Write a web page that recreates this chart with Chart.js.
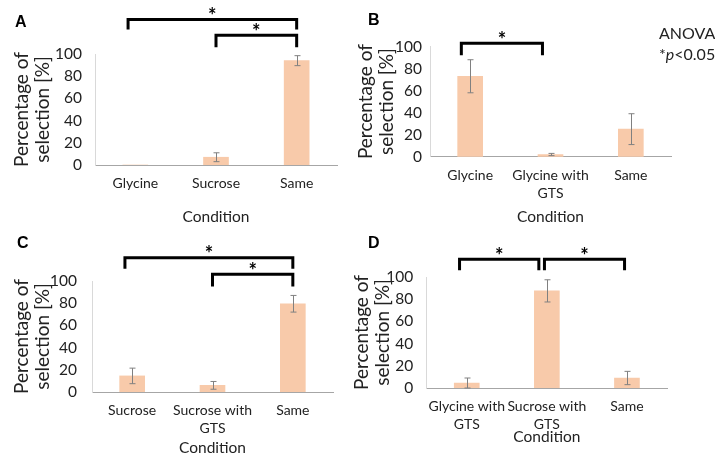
<!DOCTYPE html>
<html>
<head>
<meta charset="utf-8">
<script src="https://cdn.jsdelivr.net/npm/chart.js@4.4.1/dist/chart.umd.min.js"></script>
<style>
  html, body { margin: 0; padding: 0; background: #fff; overflow: hidden; }
  body { position: relative; width: 715px; height: 453px; font-family: Lato, "Open Sans", sans-serif; }
  canvas { position: absolute; }
  .letter { position: absolute; font: bold 16px "Liberation Sans", Arial, sans-serif; color: #000; }
  .note { position: absolute; font: 16px Lato, sans-serif; color: #222; line-height: 21px; }
</style>
</head>
<body>
<canvas id="chartA" width="355" height="226" style="left:0;top:0"></canvas>
<canvas id="chartB" width="365" height="226" style="left:350px;top:0"></canvas>
<canvas id="chartC" width="355" height="231" style="left:0;top:226px"></canvas>
<canvas id="chartD" width="365" height="220" style="left:350px;top:226px"></canvas>

<div class="letter" style="left:15px;top:13px">A</div>
<div class="letter" style="left:368px;top:11px">B</div>
<div class="letter" style="left:17px;top:234px">C</div>
<div class="letter" style="left:368px;top:234px">D</div>
<div class="note" style="left:659px;top:22px">ANOVA<br>*<i>p</i>&lt;0.05</div>

<script>
// values (percent of selection, mean and error)
const yTicks = [0, 20, 40, 60, 80, 100];

const catsA = ['Glycine', 'Sucrose', 'Same'];
const valsA = [0, 7, 94];
const errA = [0, 4, 4.5];

const catsB = ['Glycine', ['Glycine with', 'GTS'], 'Same'];
const valsB = [73, 2, 25];
const errB = [15, 1, 14];

const catsC = ['Sucrose', ['Sucrose with', 'GTS'], 'Same'];
const valsC = [14.5, 6, 79.5];
const errC = [7, 3.5, 7.5];

const catsD = [['Glycine with', 'GTS'], ['Sucrose with', 'GTS'], 'Same'];
const valsD = [4.5, 87.5, 9];
const errD = [4.5, 10, 6];

// significance brackets: category span and height in axis units
const sigA = [{ from: -0.09, to: 2, top: 131, leg: 122 }, { from: 1, to: 2, top: 117, leg: 106 }];
const sigB = [{ from: -0.11, to: 0.9, top: 103, leg: 92 }];
const sigC = [{ from: -0.09, to: 2, top: 121, leg: 111 }, { from: 1, to: 2, top: 106, leg: 95 }];
const sigD = [{ from: -0.09, to: 0.9, top: 116, leg: 106 }, { from: 0.97, to: 1.97, top: 116, leg: 106 }];

const barColor = '#f8caaa';

const errorBars = {
  id: 'errorBars',
  afterDatasetsDraw(chart, args, opts) {
    const ctx = chart.ctx;
    const y = chart.scales.y;
    const meta = chart.getDatasetMeta(0);
    ctx.save();
    ctx.strokeStyle = '#808080';
    ctx.lineWidth = 1;
    meta.data.forEach((bar, i) => {
      const v = chart.data.datasets[0].data[i];
      const e = opts.err[i];
      if (!e) return;
      const x = Math.round(bar.x) + 0.5;
      const y1 = y.getPixelForValue(v + e);
      const y2 = y.getPixelForValue(Math.max(0, v - e));
      ctx.beginPath();
      ctx.moveTo(x, y1); ctx.lineTo(x, y2);
      ctx.moveTo(x - 3, y1); ctx.lineTo(x + 3, y1);
      ctx.moveTo(x - 3, y2); ctx.lineTo(x + 3, y2);
      ctx.stroke();
    });
    ctx.restore();
  }
};

const brackets = {
  id: 'brackets',
  afterDraw(chart, args, opts) {
    const ctx = chart.ctx;
    const xs = chart.scales.x, ys = chart.scales.y;
    ctx.save();
    ctx.strokeStyle = '#000';
    ctx.fillStyle = '#000';
    ctx.lineWidth = 3;
    ctx.font = 'bold 20px Lato';
    ctx.textAlign = 'center';
    ctx.textBaseline = 'middle';
    opts.list.forEach(s => {
      const x1 = xs.getPixelForValue(s.from);
      const x2 = xs.getPixelForValue(s.to);
      const yt = ys.getPixelForValue(s.top);
      const yl = ys.getPixelForValue(s.leg);
      ctx.beginPath();
      ctx.moveTo(x1, yl); ctx.lineTo(x1, yt); ctx.lineTo(x2, yt); ctx.lineTo(x2, yl);
      ctx.stroke();
      ctx.fillText('*', (x1 + x2) / 2, yt - 3);
    });
    ctx.restore();
  }
};

function makePanel(id, cats, vals, err, sig, g) {
  return new Chart(document.getElementById(id), {
    type: 'bar',
    data: {
      labels: cats,
      datasets: [{ data: vals, backgroundColor: barColor, barThickness: 25 }]
    },
    plugins: [errorBars, brackets],
    options: {
      responsive: false,
      animation: false,
      devicePixelRatio: 1,
      layout: { padding: { left: 0, top: g.top, right: g.right, bottom: 0 } },
      plugins: {
        legend: { display: false },
        tooltip: { enabled: false },
        errorBars: { err: err },
        brackets: { list: sig }
      },
      scales: {
        x: {
          grid: { display: false, drawTicks: false },
          border: { display: true, color: '#a6a6a6', width: 1 },
          ticks: { color: '#222', padding: 9.5, maxRotation: 0, autoSkip: false,
                   font: { family: 'Lato', size: 14, lineHeight: 1.3 } },
          title: { display: true, text: 'Condition', color: '#222', padding: 0,
                   font: { family: 'Lato', size: 15.5, lineHeight: 1.2 } },
          afterFit(scale) { scale.height = g.xh; }
        },
        y: {
          min: yTicks[0],
          max: yTicks[yTicks.length - 1],
          grid: { display: false, drawTicks: false },
          border: { display: true, color: '#d9d9d9', width: 1 },
          ticks: { stepSize: yTicks[1] - yTicks[0], color: '#222', padding: g.tp,
                   font: { family: 'Lato', size: 15.5 } },
          title: { display: true, text: ['Percentage of', 'selection [%]'], color: '#222',
                   padding: { top: g.tt, bottom: 0 },
                   font: { family: 'Lato', size: 19, lineHeight: 1.1 } },
          afterFit(scale) { scale.width = g.yw; }
        }
      }
    }
  });
}

makePanel('chartA', catsA, valsA, errA, sigA, { top: 54, right: 18, xh: 61, yw: 95, tp: 13, tt: 11.5 });
makePanel('chartB', catsB, valsB, errB, sigB, { top: 46.5, right: 44, xh: 69.3, yw: 80, tp: 8, tt: 5.2 });
makePanel('chartC', catsC, valsC, errC, sigC, { top: 55, right: 22, xh: 65, yw: 92, tp: 15, tt: 11.2 });
makePanel('chartD', catsD, valsD, errD, sigD, { top: 51, right: 48, xh: 58, yw: 76.7, tp: 13.5, tt: 1.2 });
</script>
</body>
</html>
